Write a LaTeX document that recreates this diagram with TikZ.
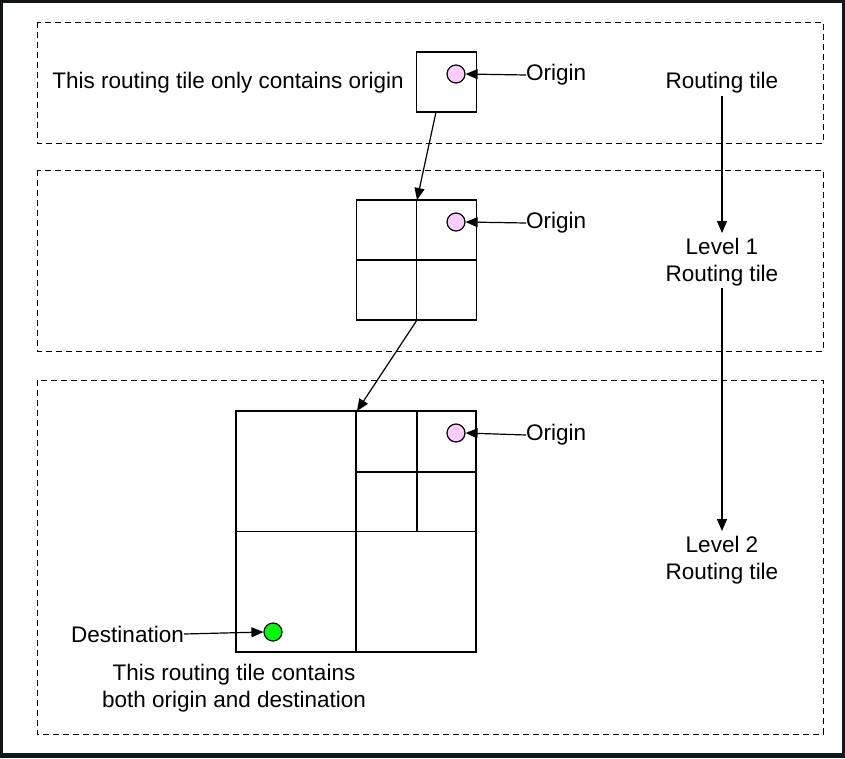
\documentclass[tikz,border=0pt]{standalone}
\usepackage{fontspec}
\setmainfont{Liberation Sans}
\usetikzlibrary{arrows.meta}
\definecolor{frame}{HTML}{12151A}
\definecolor{pinkdot}{HTML}{FFCCFF}
\definecolor{greendot}{HTML}{00FF00}
\begin{document}
\begin{tikzpicture}[x=1pt,y=-1pt,
  lbl/.style={font=\fontsize{22.5}{27}\selectfont, inner sep=0pt, align=center},
  grp/.style={draw, line width=1pt, dash pattern=on 6pt off 4pt},
  tile/.style={draw, line width=1.3pt},
  dot/.style={circle, draw, line width=1.2pt, minimum size=18pt, inner sep=0pt},
  arr/.style={draw, line width=1.2pt, -{Triangle[length=12pt,width=10pt]}}]
\fill[frame] (0,0) rectangle (845,758);
\fill[white] (3,3) rectangle (842,753);
\useasboundingbox (0,0) rectangle (845,758);
% groups
\draw[grp] (37,22) rectangle (823,143);
\draw[grp] (37,170) rectangle (823,351);
\draw[grp] (37,380) rectangle (823,734);
% tile 1
\node[tile, minimum width=60pt, minimum height=60pt, inner sep=0pt] (t1) at (446.5,82) {};
\node[dot, fill=pinkdot] (o1) at (456,74) {};
\node[lbl, anchor=west] (l1) at (526,75) {Origin};
\draw[arr] (l1.west) -- (o1.east);
\node[lbl] (c1) at (228,83) {This routing tile only contains origin};
% tile 2
\node[tile, minimum width=120pt, minimum height=120pt, inner sep=0pt] (t2) at (416.5,260) {};
\draw[tile] (t2.north) -- (t2.south);
\draw[tile] (t2.west) -- (t2.east);
\node[dot, fill=pinkdot] (o2) at (456,222) {};
\node[lbl, anchor=west] (l2) at (526,223) {Origin};
\draw[arr] (l2.west) -- (o2.east);
% tile 3
\node[tile, minimum width=240pt, minimum height=241pt, inner sep=0pt] (t3) at (356,531.5) {};
\draw[tile] (t3.north) -- (t3.south);
\draw[tile] (t3.west) -- (t3.east);
\coordinate (q1) at (417,411);
\coordinate (q2) at (417,532);
\coordinate (q3) at (357,472);
\coordinate (q4) at (476,472);
\draw[tile] (q1) -- (q2);
\draw[tile] (q3) -- (q4);
\node[dot, fill=pinkdot] (o3) at (456,433) {};
\node[lbl, anchor=west] (l3) at (526,435) {Origin};
\draw[arr] (l3.west) -- (o3.east);
\node[dot, fill=greendot] (d3) at (273,632) {};
\node[lbl, anchor=east] (ld) at (184,634) {Destination};
\draw[arr] (ld.east) -- (d3.west);
\node[lbl] (c3) at (234,688) {This routing tile contains\\both origin and destination};
% connectors between tiles
\coordinate (t1b) at (436,112);
\coordinate (t2t) at (417,200);
\coordinate (t2b) at (417,320);
\coordinate (t3t) at (357,411);
\draw[arr] (t1b) -- (t2t);
\draw[arr] (t2b) -- (t3t);
% right column
\node[lbl] (r0) at (722,83) {Routing tile};
\node[lbl] (r1) at (722,262) {Level 1\\Routing tile};
\node[lbl] (r2) at (722,560) {Level 2\\Routing tile};
\coordinate (a0s) at (722,96);
\coordinate (a0e) at (722,233);
\coordinate (a1s) at (722,288);
\coordinate (a1e) at (722,531);
\draw[arr] (a0s) -- (a0e);
\draw[arr] (a1s) -- (a1e);
\end{tikzpicture}
\end{document}
